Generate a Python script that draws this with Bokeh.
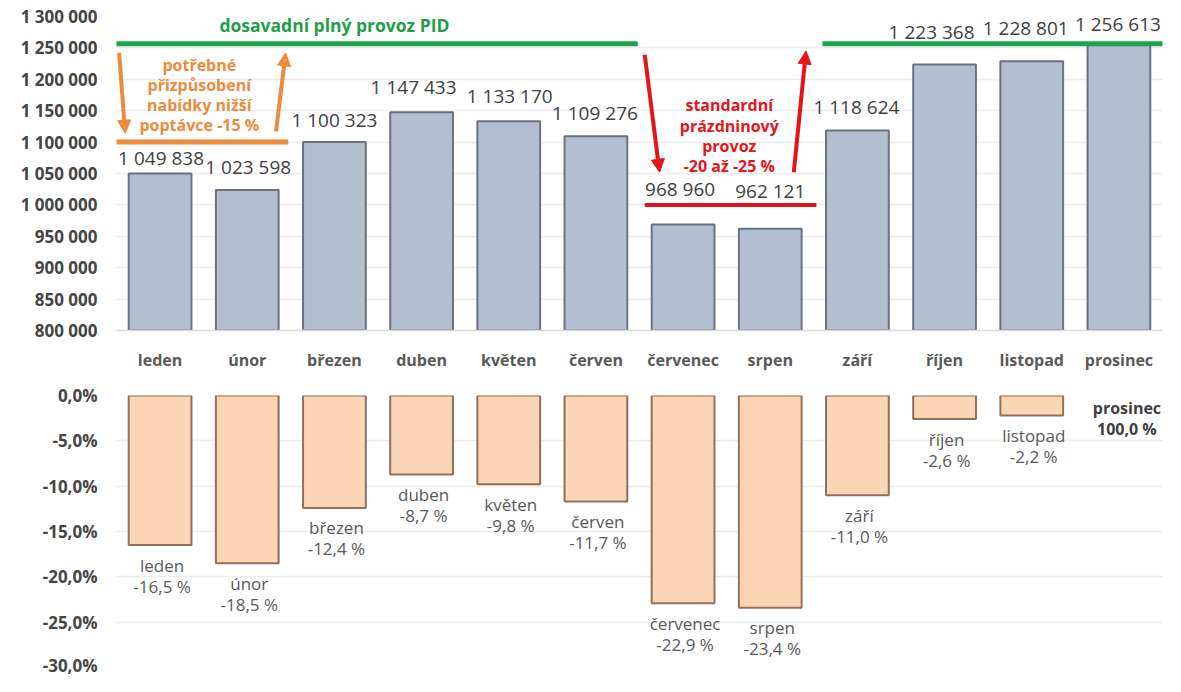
from bokeh.plotting import figure
from bokeh.layouts import column
from bokeh.models import (Range1d, FixedTicker, CustomJSTickFormatter, ColumnDataSource,
                          Arrow, NormalHead)
from bokeh.embed import file_html
from bokeh.resources import INLINE
from bokeh.core.properties import value

# ---------------- data ----------------
months = ["leden", "únor", "březen", "duben", "květen", "červen",
          "červenec", "srpen", "září", "říjen", "listopad", "prosinec"]
passengers = [1049838, 1023598, 1100323, 1147433, 1133170, 1109276,
              968960, 962121, 1118624, 1223368, 1228801, 1256613]
change_pct = [-16.5, -18.5, -12.4, -8.7, -9.8, -11.7,
              -22.9, -23.4, -11.0, -2.6, -2.2, 0.0]
top_ticks = [800000, 850000, 900000, 950000, 1000000, 1050000,
             1100000, 1150000, 1200000, 1250000, 1300000]
bottom_ticks = [-30, -25, -20, -15, -10, -5, 0]

full_level = 1256613      # dosavadní plný provoz (prosinec)
reduced_level = 1100000   # přizpůsobení nabídky
holiday_level = 1000000   # prázdninový provoz

green_text = "dosavadní plný provoz PID"
orange_text = ["potřebné", "přizpůsobení", "nabídky nižší", "poptávce -15 %"]
red_text = ["standardní", "prázdninový", "provoz", "-20 až -25 %"]
base_text = ["prosinec", "100,0 %"]

# ---------------- styles ----------------
FONT = value("Open Sans")
W = 1165
idx = list(range(len(months)))
# label pixel offsets (style only)
top_label_dy = [-16, -23, -22, -25, -25, -23, -35, -38, -23, -33, -33, -20]
top_label_dx = [1, 1, 0, -8, 1, -1, -3, 0, -1, -13, -6, -1]
GRID = "#ECECEC"

def fmt_thousands(v):
    return f"{v:,}".replace(",", " ")

def style_yaxis(ax):
    ax.axis_line_color = None
    ax.major_tick_line_color = None
    ax.minor_tick_line_color = None
    ax.major_tick_out = 0
    ax.major_tick_in = 0
    ax.minor_tick_out = 0
    ax.minor_tick_in = 0
    ax.major_label_standoff = 19
    ax.major_label_text_font = "Open Sans"
    ax.major_label_text_font_style = "bold"
    ax.major_label_text_font_size = "17px"
    ax.major_label_text_color = "#454545"

xr = Range1d(-0.5, 11.5)

# ---------------- top figure ----------------
top = figure(width=W, height=374, x_range=xr, y_range=Range1d(800000, 1300000),
             output_backend="svg", toolbar_location=None,
             min_border_left=116, min_border_right=3, min_border_top=16, min_border_bottom=44)
top.outline_line_color = None
top.xgrid.visible = False
top.ygrid.grid_line_color = GRID
top.ygrid.grid_line_width = 1.5

top.yaxis.ticker = FixedTicker(ticks=top_ticks)
top.yaxis.formatter = CustomJSTickFormatter(
    code="return Math.round(tick).toString().replace(/\\B(?=(\\d{3})+(?!\\d))/g, ' ');")
style_yaxis(top.yaxis[0])

top.xaxis.ticker = FixedTicker(ticks=idx)
top.xaxis.major_label_overrides = {i: m for i, m in enumerate(months)}
top.xaxis.axis_line_color = "#D9D9D9"
top.xaxis.axis_line_width = 1.5
top.xaxis.major_tick_line_color = None
top.xaxis.minor_tick_line_color = None
top.xaxis.major_tick_out = 0
top.xaxis.major_tick_in = 0
top.xaxis.minor_tick_out = 0
top.xaxis.minor_tick_in = 0
top.xaxis.major_label_standoff = 18
top.xaxis.major_label_text_font = "Open Sans"
top.xaxis.major_label_text_font_style = "bold"
top.xaxis.major_label_text_font_size = "16px"
top.xaxis.major_label_text_color = "#595959"

top_src = ColumnDataSource(dict(
    x=idx, top=passengers,
    label=[fmt_thousands(v) for v in passengers],
    dx=top_label_dx, dy=top_label_dy))

top.vbar(x="x", top="top", bottom=800000, width=0.72, source=top_src,
         fill_color="#B3BECF", line_color="#6A7180", line_width=2)
top.text(x="x", y="top", text="label", x_offset="dx", y_offset="dy", source=top_src,
         text_font=FONT, text_font_size="19px", text_color="#404040",
         text_align="center", text_baseline="middle")

# reference level lines
top.segment(x0=[-0.6, 7.6], x1=[5.48, 11.6], y0=[full_level, full_level],
            y1=[full_level, full_level], line_color="#1FA34A", line_width=5)
top.segment(x0=[-0.6], x1=[1.47], y0=[reduced_level], y1=[reduced_level],
            line_color="#EE8A3B", line_width=5)
top.segment(x0=[5.56], x1=[7.53], y0=[holiday_level], y1=[holiday_level],
            line_color="#E5141B", line_width=4)

# arrows
for (xs, ys, xe, ye, c) in [(-0.47, 1242000, -0.40, 1114000, "#EE8A3B"),
                            (1.33, 1117000, 1.44, 1242000, "#EE8A3B"),
                            (5.56, 1239000, 5.73, 1052000, "#E5141B"),
                            (7.27, 1052000, 7.41, 1245000, "#E5141B")]:
    top.add_layout(Arrow(end=NormalHead(size=13, fill_color=c, line_color=c),
                         x_start=xs, y_start=ys, x_end=xe, y_end=ye,
                         line_color=c, line_width=4))

# annotation texts
top.text(x=[2.0], y=[full_level], text=[green_text], y_offset=-19,
         text_font=FONT, text_font_style="bold", text_font_size="17.5px",
         text_color="#1F9E49", text_align="center", text_baseline="middle")
top.text(x=[0.45] * 4, y=[full_level] * 4, text=orange_text, y_offset=[21, 41, 61, 81],
         text_font=FONT, text_font_style="bold", text_font_size="16px",
         text_color="#EE8A3B", text_align="center", text_baseline="middle")
top.text(x=[6.53] * 4, y=[holiday_level] * 4, text=red_text, y_offset=[-100, -79, -59, -39],
         text_font=FONT, text_font_style="bold", text_font_size="16px",
         text_color="#E5141B", text_align="center", text_baseline="middle")

# ---------------- bottom figure ----------------
bot = figure(width=W, height=302, x_range=xr, y_range=Range1d(-30, 0),
             output_backend="svg", toolbar_location=None,
             min_border_left=116, min_border_right=3, min_border_top=21, min_border_bottom=9)
bot.outline_line_color = None
bot.xaxis.visible = False
bot.xgrid.visible = False
bot.ygrid.grid_line_color = GRID
bot.ygrid.grid_line_width = 1.5
bot.yaxis.ticker = FixedTicker(ticks=bottom_ticks)
bot.yaxis.formatter = CustomJSTickFormatter(
    code="return tick.toFixed(1).replace('.', ',') + '%';")
style_yaxis(bot.yaxis[0])

bot_src = ColumnDataSource(dict(
    x=idx, pct=change_pct,
    la=[0 if v == 0 else 1 for v in change_pct]))
bot.vbar(x="x", top=0, bottom="pct", width=0.72, source=bot_src,
         fill_color="#FCD5B5", line_color="#8F705E", line_width=2, line_alpha="la")

lab_x = [i for i, v in zip(idx, change_pct) if v != 0]
lab_y = [v for v in change_pct if v != 0]
lab_name = [m for m, v in zip(months, change_pct) if v != 0]
lab_pct = [f"{v:.1f}".replace(".", ",") + " %" for v in change_pct if v != 0]
lab_src = ColumnDataSource(dict(x=lab_x, y=lab_y, name=lab_name, pct=lab_pct))
bot.text(x="x", y="y", text="name", y_offset=20, x_offset=2, source=lab_src,
         text_font=FONT, text_font_size="17px", text_color="#595959",
         text_align="center", text_baseline="middle")
bot.text(x="x", y="y", text="pct", y_offset=41, x_offset=2, source=lab_src,
         text_font=FONT, text_font_size="17px", text_color="#595959",
         text_align="center", text_baseline="middle")

base_i = change_pct.index(0.0)
bot.text(x=[idx[base_i]] * 2, y=[change_pct[base_i]] * 2, text=base_text,
         x_offset=8, y_offset=[12, 33],
         text_font=FONT, text_font_style="bold", text_font_size="16px",
         text_color="#404040", text_align="center", text_baseline="middle")

layout = column(top, bot, spacing=0)
open("out.html", "w").write(file_html(layout, INLINE))
